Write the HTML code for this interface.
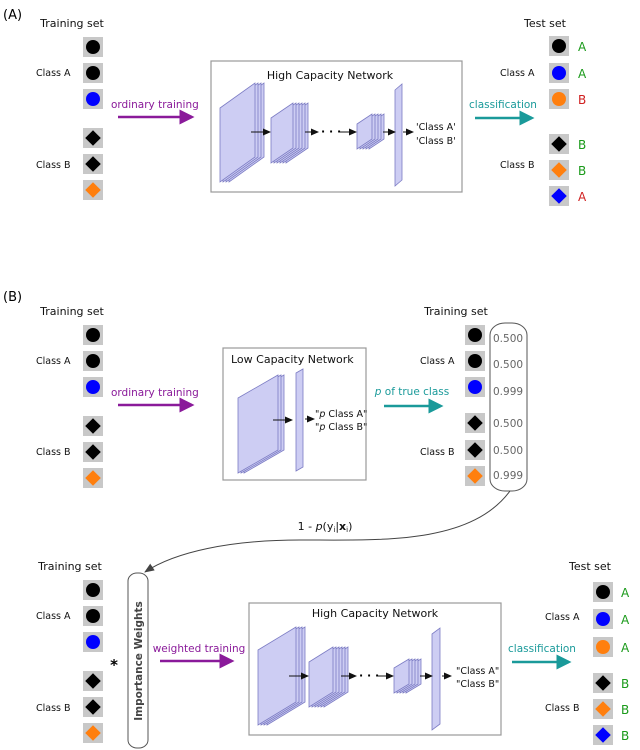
<!DOCTYPE html>
<html><head><meta charset="utf-8"><style>
html,body{margin:0;padding:0;background:#fff}
svg{display:block}
text{font-family:"DejaVu Sans","Liberation Sans",sans-serif}
.t{font-size:11px;fill:#111}
.c{font-size:9.5px;fill:#111}
.s{fill:#c8c8c8}
.sl{fill:#cdcdf3;stroke:#7c7cc4;stroke-width:0.8}
.g{font-size:12px;fill:#1a9a1a}
.r{font-size:12px;fill:#d02020}
.v{font-size:10.5px;fill:#666}
</style></head><body>
<svg width="640" height="750" viewBox="0 0 640 750" xmlns="http://www.w3.org/2000/svg">
<defs>
<marker id="mp" markerWidth="6" markerHeight="6" refX="5" refY="3" orient="auto" markerUnits="strokeWidth"><path d="M0,0 L6,3 L0,6 z" fill="#8a1a9a"/></marker>
<marker id="mt" markerWidth="6" markerHeight="6" refX="5" refY="3" orient="auto" markerUnits="strokeWidth"><path d="M0,0 L6,3 L0,6 z" fill="#1a9a9a"/></marker>
<marker id="mk" markerWidth="8" markerHeight="8" refX="7" refY="4" orient="auto" markerUnits="userSpaceOnUse"><path d="M0,0.5 L8,4 L0,7.5 z" fill="#111"/></marker>
<marker id="mg" markerWidth="10" markerHeight="10" refX="9" refY="5" orient="auto" markerUnits="userSpaceOnUse"><path d="M0,1 L10,5 L0,9 z" fill="#444"/></marker>
<g id="ci"><circle r="7"/></g>
<g id="di"><rect x="-5.5" y="-5.5" width="11" height="11" transform="rotate(45)"/></g>
</defs>

<!-- Panel A -->
<text x="3" y="19" style="font-size:13px">(A)</text>
<text x="72" y="27" class="t" text-anchor="middle">Training set</text>
<g class="s">
<rect x="83" y="37" width="20" height="20"/><rect x="83" y="63" width="20" height="20"/><rect x="83" y="89" width="20" height="20"/>
<rect x="83" y="128" width="20" height="20"/><rect x="83" y="154" width="20" height="20"/><rect x="83" y="180" width="20" height="20"/>
</g>
<use href="#ci" x="93" y="47" fill="#000"/><use href="#ci" x="93" y="73" fill="#000"/><use href="#ci" x="93" y="99" fill="#0000ff"/>
<use href="#di" x="93" y="138" fill="#000"/><use href="#di" x="93" y="164" fill="#000"/><use href="#di" x="93" y="190" fill="#ff7f0e"/>
<text x="36" y="76" class="c">Class A</text><text x="36" y="168" class="c">Class B</text>

<text x="111" y="108" style="font-size:10.5px;fill:#8a1a9a">ordinary training</text>
<line x1="118" y1="117" x2="192" y2="117" stroke="#8a1a9a" stroke-width="2.5" marker-end="url(#mp)"/>

<rect x="211" y="61" width="251" height="131" fill="#fff" stroke="#999" stroke-width="1.2"/>
<text x="330" y="79" class="t" text-anchor="middle">High Capacity Network</text>
<g class="sl">
<polygon points="229,108 264,83 264,157 229,182"/><polygon points="226,108 261,83 261,157 226,182"/><polygon points="223,108 258,83 258,157 223,182"/><polygon points="220,108 255,83 255,157 220,182"/>
<polygon points="286,118 308,103 308,148 286,163"/><polygon points="283,118 305,103 305,148 283,163"/><polygon points="280,118 302,103 302,148 280,163"/><polygon points="277,118 299,103 299,148 277,163"/><polygon points="274,118 296,103 296,148 274,163"/><polygon points="271,118 293,103 293,148 271,163"/>
<polygon points="369,124 384,114 384,139 369,149"/><polygon points="366,124 381,114 381,139 366,149"/><polygon points="363,124 378,114 378,139 363,149"/><polygon points="360,124 375,114 375,139 360,149"/><polygon points="357,124 372,114 372,139 357,149"/>
<polygon points="395,90 402,84 402,180 395,186"/>
</g>
<g stroke="#111" stroke-width="1" marker-end="url(#mk)">
<line x1="251" y1="132" x2="270" y2="132"/><line x1="305" y1="132" x2="318" y2="132"/><line x1="340" y1="132" x2="356" y2="132"/><line x1="383" y1="132" x2="395" y2="132"/><line x1="403" y1="132" x2="413" y2="132"/>
</g>
<text x="321" y="135" style="font-size:11px;font-weight:bold">· · ·</text>
<text x="416" y="130" class="c">'Class A'</text><text x="416" y="144" class="c">'Class B'</text>

<text x="503" y="108" style="font-size:10.5px;fill:#1a9a9a" text-anchor="middle">classification</text>
<line x1="475" y1="118" x2="532" y2="118" stroke="#1a9a9a" stroke-width="2.5" marker-end="url(#mt)"/>

<text x="545" y="27" class="t" text-anchor="middle">Test set</text>
<g class="s">
<rect x="549" y="36" width="20" height="20"/><rect x="549" y="63" width="20" height="20"/><rect x="549" y="89" width="20" height="20"/>
<rect x="549" y="134" width="20" height="20"/><rect x="549" y="160" width="20" height="20"/><rect x="549" y="186" width="20" height="20"/>
</g>
<use href="#ci" x="559" y="46" fill="#000"/><use href="#ci" x="559" y="73" fill="#0000ff"/><use href="#ci" x="559" y="99" fill="#ff7f0e"/>
<use href="#di" x="559" y="144" fill="#000"/><use href="#di" x="559" y="170" fill="#ff7f0e"/><use href="#di" x="559" y="196" fill="#0000ff"/>
<text x="500" y="76" class="c">Class A</text><text x="500" y="168" class="c">Class B</text>
<text x="578" y="51" class="g">A</text><text x="578" y="78" class="g">A</text><text x="578" y="104" class="r">B</text>
<text x="578" y="149" class="g">B</text><text x="578" y="175" class="g">B</text><text x="578" y="201" class="r">A</text>

<!-- Panel B -->
<text x="3" y="301" style="font-size:13px">(B)</text>
<text x="72" y="315" class="t" text-anchor="middle">Training set</text>
<g class="s">
<rect x="83" y="325" width="20" height="20"/><rect x="83" y="351" width="20" height="20"/><rect x="83" y="377" width="20" height="20"/>
<rect x="83" y="416" width="20" height="20"/><rect x="83" y="442" width="20" height="20"/><rect x="83" y="468" width="20" height="20"/>
</g>
<use href="#ci" x="93" y="335" fill="#000"/><use href="#ci" x="93" y="361" fill="#000"/><use href="#ci" x="93" y="387" fill="#0000ff"/>
<use href="#di" x="93" y="426" fill="#000"/><use href="#di" x="93" y="452" fill="#000"/><use href="#di" x="93" y="478" fill="#ff7f0e"/>
<text x="36" y="364" class="c">Class A</text><text x="36" y="455" class="c">Class B</text>
<text x="111" y="396" style="font-size:10.5px;fill:#8a1a9a">ordinary training</text>
<line x1="118" y1="405" x2="192" y2="405" stroke="#8a1a9a" stroke-width="2.5" marker-end="url(#mp)"/>

<rect x="223" y="348" width="143" height="132" fill="#fff" stroke="#999" stroke-width="1.2"/>
<text x="231" y="363" class="t">Low Capacity Network</text>
<g class="sl">
<polygon points="244,398 284,375 284,450 244,473"/><polygon points="241,398 281,375 281,450 241,473"/><polygon points="238,398 278,375 278,450 238,473"/>
<polygon points="296,373 303,369 303,467 296,471"/>
</g>
<g stroke="#111" stroke-width="1" marker-end="url(#mk)">
<line x1="273" y1="420" x2="292" y2="420"/><line x1="305" y1="419" x2="314" y2="419"/>
</g>
<text x="315" y="417" class="c">"<tspan font-style="italic">p</tspan> Class A"</text>
<text x="315" y="430" class="c">"<tspan font-style="italic">p</tspan> Class B"</text>

<text x="412" y="395" style="font-size:10.5px;fill:#1a9a9a" text-anchor="middle"><tspan font-style="italic">p</tspan> of true class</text>
<line x1="384" y1="406" x2="441" y2="406" stroke="#1a9a9a" stroke-width="2.5" marker-end="url(#mt)"/>

<text x="456" y="315" class="t" text-anchor="middle">Training set</text>
<g class="s">
<rect x="465" y="325" width="20" height="20"/><rect x="465" y="351" width="20" height="20"/><rect x="465" y="377" width="20" height="20"/>
<rect x="465" y="413" width="20" height="20"/><rect x="465" y="440" width="20" height="20"/><rect x="465" y="466" width="20" height="20"/>
</g>
<use href="#ci" x="475" y="335" fill="#000"/><use href="#ci" x="475" y="361" fill="#000"/><use href="#ci" x="475" y="387" fill="#0000ff"/>
<use href="#di" x="475" y="423" fill="#000"/><use href="#di" x="475" y="450" fill="#000"/><use href="#di" x="475" y="476" fill="#ff7f0e"/>
<text x="420" y="364" class="c">Class A</text><text x="420" y="455" class="c">Class B</text>
<rect x="490" y="323" width="37" height="168" rx="15" ry="12" fill="#fff" stroke="#555" stroke-width="1"/>
<text x="493" y="342" class="v">0.500</text><text x="493" y="368" class="v">0.500</text><text x="493" y="395" class="v">0.999</text>
<text x="493" y="427" class="v">0.500</text><text x="493" y="454" class="v">0.500</text><text x="493" y="479" class="v">0.999</text>

<path d="M510,491 C470,545 380,540 300,540 C230,540 175,552 145,572" fill="none" stroke="#444" stroke-width="1" marker-end="url(#mg)"/>
<text x="325" y="530" style="font-size:11px;fill:#111" text-anchor="middle">1 - <tspan font-style="italic">p</tspan>(y<tspan font-size="7" dy="2">i</tspan><tspan dy="-2">|</tspan><tspan font-weight="bold">x</tspan><tspan font-size="7" dy="2">i</tspan><tspan dy="-2">)</tspan></text>

<!-- Lower -->
<text x="70" y="570" class="t" text-anchor="middle">Training set</text>
<g class="s">
<rect x="83" y="580" width="20" height="20"/><rect x="83" y="606" width="20" height="20"/><rect x="83" y="632" width="20" height="20"/>
<rect x="83" y="671" width="20" height="20"/><rect x="83" y="697" width="20" height="20"/><rect x="83" y="723" width="20" height="20"/>
</g>
<use href="#ci" x="93" y="590" fill="#000"/><use href="#ci" x="93" y="616" fill="#000"/><use href="#ci" x="93" y="642" fill="#0000ff"/>
<use href="#di" x="93" y="681" fill="#000"/><use href="#di" x="93" y="707" fill="#000"/><use href="#di" x="93" y="733" fill="#ff7f0e"/>
<text x="36" y="619" class="c">Class A</text><text x="36" y="711" class="c">Class B</text>
<text x="114" y="670" style="font-size:15px;font-weight:bold" text-anchor="middle">*</text>
<rect x="128" y="573" width="20" height="175" rx="9" ry="8" fill="#fff" stroke="#555" stroke-width="1"/>
<text transform="translate(142,661) rotate(-90)" style="font-size:10.5px;font-weight:bold;fill:#444" text-anchor="middle">Importance Weights</text>
<text x="199" y="652" style="font-size:10.5px;fill:#8a1a9a" text-anchor="middle">weighted training</text>
<line x1="160" y1="661" x2="232" y2="661" stroke="#8a1a9a" stroke-width="2.5" marker-end="url(#mp)"/>

<rect x="249" y="603" width="252" height="132" fill="#fff" stroke="#999" stroke-width="1.2"/>
<text x="375" y="617" class="t" text-anchor="middle">High Capacity Network</text>
<g class="sl">
<polygon points="267,650 305,627 305,702 267,725"/><polygon points="264,650 302,627 302,702 264,725"/><polygon points="261,650 299,627 299,702 261,725"/><polygon points="258,650 296,627 296,702 258,725"/>
<polygon points="324,662 348,647 348,692 324,707"/><polygon points="321,662 345,647 345,692 321,707"/><polygon points="318,662 342,647 342,692 318,707"/><polygon points="315,662 339,647 339,692 315,707"/><polygon points="312,662 336,647 336,692 312,707"/><polygon points="309,662 333,647 333,692 309,707"/>
<polygon points="406,668 421,659 421,684 406,693"/><polygon points="403,668 418,659 418,684 403,693"/><polygon points="400,668 415,659 415,684 400,693"/><polygon points="397,668 412,659 412,684 397,693"/><polygon points="394,668 409,659 409,684 394,693"/>
<polygon points="432,634 440,628 440,724 432,730"/>
</g>
<g stroke="#111" stroke-width="1" marker-end="url(#mk)">
<line x1="289" y1="676" x2="308" y2="676"/><line x1="341" y1="676" x2="356" y2="676"/><line x1="378" y1="676" x2="393" y2="676"/><line x1="420" y1="676" x2="432" y2="676"/><line x1="442" y1="676" x2="451" y2="676"/>
</g>
<text x="359" y="679" style="font-size:11px;font-weight:bold">· · ·</text>
<text x="456" y="674" class="c">"Class A"</text><text x="456" y="687" class="c">"Class B"</text>

<text x="542" y="652" style="font-size:10.5px;fill:#1a9a9a" text-anchor="middle">classification</text>
<line x1="512" y1="662" x2="569" y2="662" stroke="#1a9a9a" stroke-width="2.5" marker-end="url(#mt)"/>

<text x="590" y="570" class="t" text-anchor="middle">Test set</text>
<g class="s">
<rect x="593" y="582" width="20" height="20"/><rect x="593" y="609" width="20" height="20"/><rect x="593" y="637" width="20" height="20"/>
<rect x="593" y="673" width="20" height="20"/><rect x="593" y="699" width="20" height="20"/><rect x="593" y="725" width="20" height="20"/>
</g>
<use href="#ci" x="603" y="592" fill="#000"/><use href="#ci" x="603" y="619" fill="#0000ff"/><use href="#ci" x="603" y="647" fill="#ff7f0e"/>
<use href="#di" x="603" y="683" fill="#000"/><use href="#di" x="603" y="709" fill="#ff7f0e"/><use href="#di" x="603" y="735" fill="#0000ff"/>
<text x="545" y="620" class="c">Class A</text><text x="545" y="711" class="c">Class B</text>
<text x="621" y="597" class="g">A</text><text x="621" y="624" class="g">A</text><text x="621" y="652" class="g">A</text>
<text x="621" y="688" class="g">B</text><text x="621" y="714" class="g">B</text><text x="621" y="740" class="g">B</text>
</svg>
</body></html>
